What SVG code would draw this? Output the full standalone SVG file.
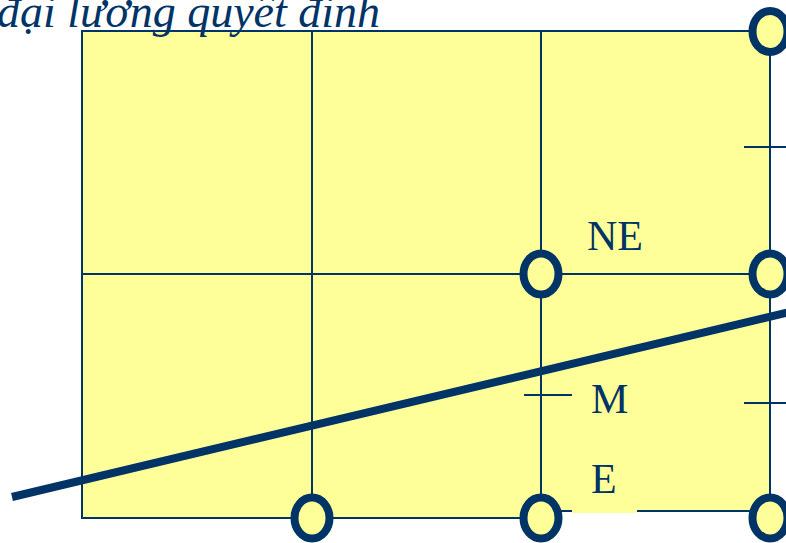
<svg xmlns="http://www.w3.org/2000/svg" width="786" height="543" viewBox="0 0 786 543">
<style>
.fill{fill:#FFFF99;stroke:none}
.edge{stroke:#003366;stroke-width:2;fill:none}
.thick{stroke:#003366;stroke-width:8;fill:none}
.node{fill:#FFFF99;stroke:#003366;stroke-width:8}
.lbl{font-family:"Liberation Serif","Times New Roman",serif;font-size:42px;fill:#003366}
.title{font-family:"Liberation Serif","Times New Roman",serif;font-style:italic;font-size:46px;fill:#003366}
</style>
<rect width="786" height="543" fill="#FFFFFF"/>
<polygon class="fill" points="82,31 770,31 770,511 541,511 541,518 82,518"/>
<text class="title" x="-3" y="27">đại lương quyêt đinh</text>
<g id="connectors">
<polyline class="edge" points="770,31 82,31 82,518 541,518"/>
<polyline class="edge" points="541,511 770,511 770,31"/>
<line class="edge" x1="312" y1="31" x2="312" y2="518"/>
<line class="edge" x1="541" y1="31" x2="541" y2="518"/>
<line class="edge" x1="82" y1="274" x2="770" y2="274"/>
<line class="edge" x1="744" y1="147" x2="786" y2="147"/>
<line class="edge" x1="744" y1="403" x2="786" y2="403"/>
<line class="edge" x1="524" y1="395" x2="572" y2="395"/>
<line class="thick" x1="12" y1="497" x2="790" y2="312"/>
</g>
<rect class="fill" x="572" y="455" width="65" height="58"/>
<g id="n-top-right"><ellipse class="node" cx="770" cy="31.5" rx="17.5" ry="20.5"/></g>
<g id="n-ne-left"><ellipse class="node" cx="541" cy="274" rx="17.5" ry="20.5"/></g>
<g id="n-ne-right"><ellipse class="node" cx="770" cy="274" rx="17.5" ry="20.5"/></g>
<g id="n-bottom-1"><ellipse class="node" cx="312" cy="518" rx="17.5" ry="20.5"/></g>
<g id="n-bottom-2"><ellipse class="node" cx="541" cy="518" rx="17.5" ry="20.5"/></g>
<g id="n-bottom-3"><ellipse class="node" cx="770" cy="518" rx="17.5" ry="20.5"/></g>
<g id="labels">
<text class="lbl" x="587" y="250">NE</text>
<text class="lbl" x="591" y="413">M</text>
<text class="lbl" x="591" y="493">E</text>
</g>
</svg>
